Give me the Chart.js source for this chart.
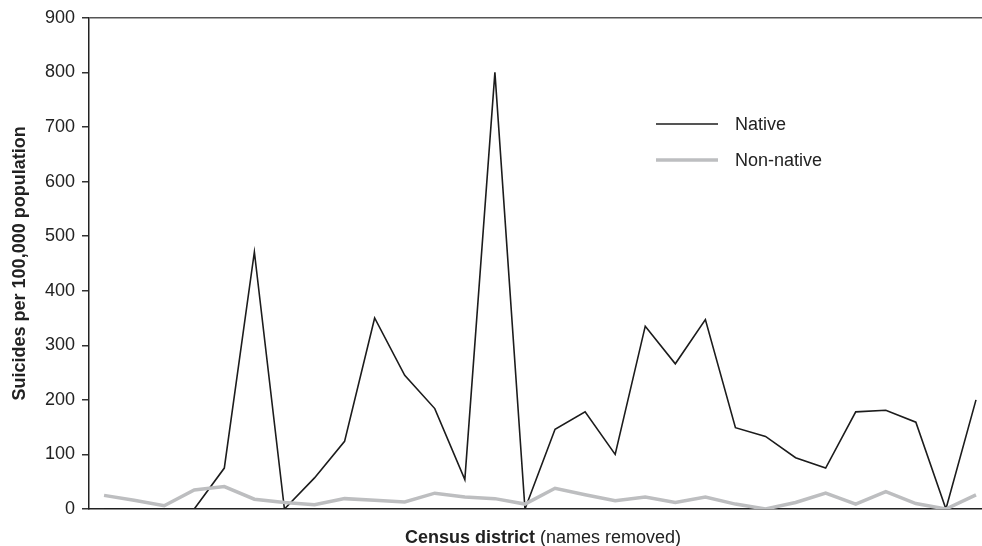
<!DOCTYPE html>
<html>
<head>
<meta charset="utf-8">
<title>Suicides per 100,000 population by census district</title>
<script src="https://cdn.jsdelivr.net/npm/chart.js@4.4.1/dist/chart.umd.min.js"></script>
<style>
	html, body { margin: 0; padding: 0; background: #fff; }
	canvas { display: block; }
</style>
</head>
<body>
<canvas id="suicideChart" width="982" height="546"></canvas>
<script>
// census districts, names removed in the source -> just numbered
var districts = [];
for (var d = 1; d <= 30; d++) {
	districts.push(d);
}

var native = [ 0, 0, 0, 0, 75, 471, 0, 57, 124, 350, 245, 184, 54, 800, 0,
		146, 178, 100, 335, 266, 347, 149, 133, 94, 75, 178, 181, 159, 0, 200 ];
var nonNative = [ 25, 16, 6, 35, 41, 18, 12, 8, 19, 16, 13, 29, 22, 19, 9,
		38, 26, 15, 22, 12, 22, 9, 0, 12, 29, 9, 32, 10, 0, 26 ];

var yTicks = [ 0, 100, 200, 300, 400, 500, 600, 700, 800, 900 ];

var seriesNames = [ "Native", "Non-native" ];
var yTitle = "Suicides per 100,000 population";
var xTitleBold = "Census district";
var xTitleRest = " (names removed)";

var FONT = "'Liberation Sans', Arial, sans-serif";
var TEXT = "#222";

function toPoints(values) {
	return values.map(function(v, i) {
		return { x : i, y : v };
	});
}

// x title (mixed weight) and the legend inside the plot
var extras = {
	id : "extras",
	afterDraw : function(chart) {
		var ctx = chart.ctx;
		ctx.save();
		ctx.fillStyle = TEXT;
		ctx.textBaseline = "alphabetic";

		ctx.font = "bold 18px " + FONT;
		var wb = ctx.measureText(xTitleBold).width;
		ctx.font = "18px " + FONT;
		var wr = ctx.measureText(xTitleRest).width;
		var x0 = 543 - (wb + wr) / 2;
		ctx.font = "bold 18px " + FONT;
		ctx.fillText(xTitleBold, x0, 543);
		ctx.font = "18px " + FONT;
		ctx.fillText(xTitleRest, x0 + wb, 543);

		// legend rows follow seriesNames order (Native first)
		var rows = [ 124, 160 ];
		seriesNames.forEach(function(name, i) {
			var ds = chart.data.datasets.filter(function(s) {
				return s.label === name;
			})[0];
			ctx.beginPath();
			ctx.strokeStyle = ds.borderColor;
			ctx.lineWidth = ds.borderWidth;
			ctx.moveTo(656, rows[i]);
			ctx.lineTo(718, rows[i]);
			ctx.stroke();
			ctx.fillStyle = TEXT;
			ctx.font = "18px " + FONT;
			ctx.textBaseline = "middle";
			ctx.fillText(name, 735, rows[i] + 1);
		});
		ctx.restore();
	}
};

new Chart(document.getElementById("suicideChart"), {
	type : "line",
	data : {
		labels : districts,
		datasets : [ {
			label : seriesNames[1],
			data : toPoints(nonNative),
			borderColor : "#bdbec0",
			borderWidth : 3.5,
			pointRadius : 0,
			tension : 0,
			fill : false
		}, {
			label : seriesNames[0],
			data : toPoints(native),
			borderColor : "#1c1c1c",
			borderWidth : 1.6,
			pointRadius : 0,
			tension : 0,
			fill : false
		} ]
	},
	options : {
		responsive : false,
		animation : false,
		devicePixelRatio : 1,
		layout : {
			padding : { top : 17, right : 0, bottom : 37, left : 0 }
		},
		plugins : {
			legend : { display : false },
			tooltip : { enabled : false }
		},
		scales : {
			x : {
				type : "linear",
				min : -0.5,
				max : 29.2,
				ticks : { display : false },
				grid : { display : false },
				border : { color : "#222", width : 1.5 },
				afterFit : function(s) {
					s.height = 0;
				}
			},
			y : {
				min : 0,
				max : 900,
				afterBuildTicks : function(s) {
					s.ticks = yTicks.map(function(v) {
						return { value : v };
					});
				},
				ticks : {
					color : TEXT,
					padding : 7,
					font : { family : FONT, size : 18 }
				},
				grid : {
					// only the top line of the frame is drawn across the plot
					color : function(c) {
						return c.tick && c.tick.value === 900 ? "#555" : "rgba(0,0,0,0)";
					},
					lineWidth : 1.5,
					tickColor : "#333",
					tickLength : 7
				},
				border : { color : "#222", width : 1.5 },
				title : {
					display : true,
					text : yTitle,
					color : TEXT,
					font : { family : FONT, size : 18, weight : "bold" },
					padding : { top : 9, bottom : 0 }
				},
				afterFit : function(s) {
					s.width = 89;
				}
			}
		}
	},
	plugins : [ extras ]
});
</script>
</body>
</html>
